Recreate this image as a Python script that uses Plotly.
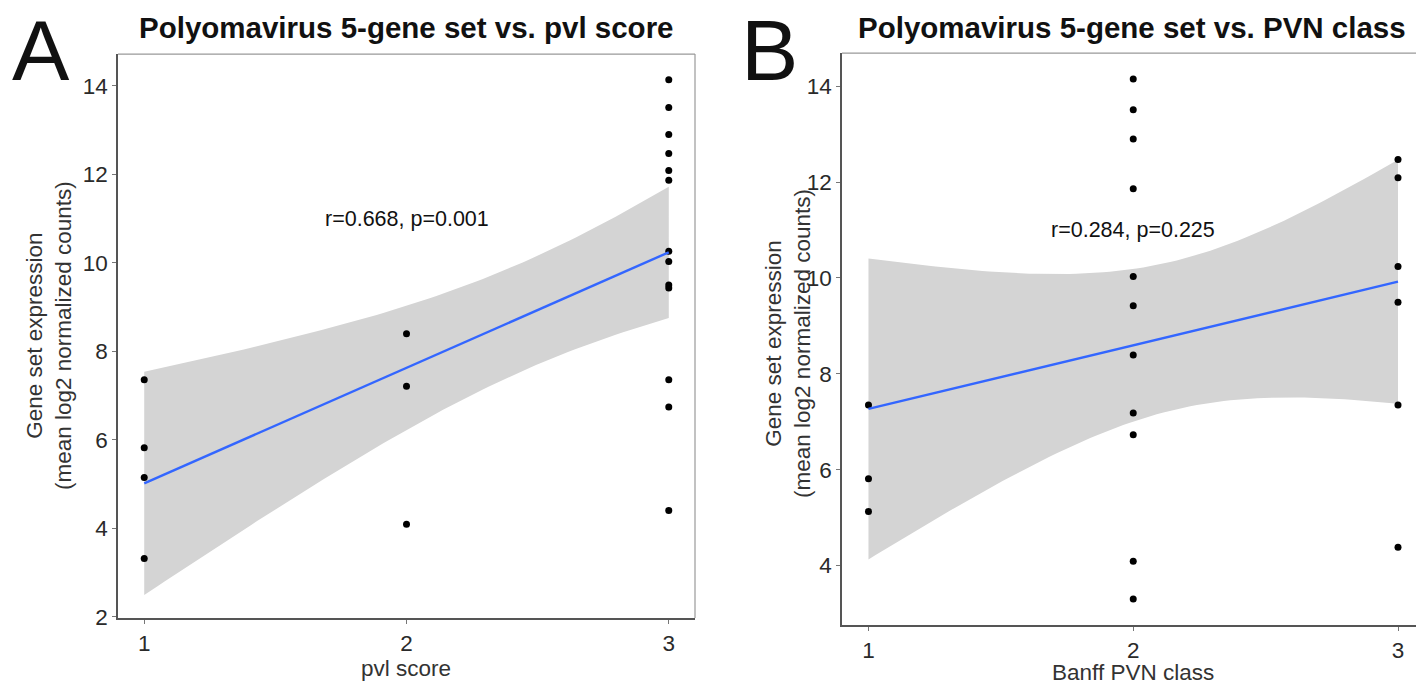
import numpy as np
import plotly.graph_objects as go

# ---- data ----
pvl_x = [1, 1, 1, 1, 2, 2, 2, 3, 3, 3, 3, 3, 3, 3, 3, 3, 3, 3, 3, 3]
pvl_y = [7.36, 5.82, 5.15, 3.32, 8.40, 7.21, 4.09,
         14.14, 13.51, 12.90, 12.47, 12.09, 11.87, 10.26, 10.03, 9.50, 9.43, 7.36, 6.74, 4.40]

pvn_x = [1, 1, 1, 2, 2, 2, 2, 2, 2, 2, 2, 2, 2, 2, 3, 3, 3, 3, 3, 3]
pvn_y = [7.35, 5.81, 5.13,
         14.15, 13.51, 12.90, 11.86, 10.03, 9.42, 8.39, 7.18, 6.73, 4.09, 3.30,
         12.47, 12.09, 10.24, 9.49, 7.35, 4.38]

x_ticks = [1, 2, 3]
yticks_a = [2, 4, 6, 8, 10, 12, 14]
yticks_b = [4, 6, 8, 10, 12, 14]
stat_a = "r=0.668, p=0.001"
stat_b = "r=0.284, p=0.225"
title_a = "Polyomavirus 5-gene set vs. pvl score"
title_b = "Polyomavirus 5-gene set vs. PVN class"
xlab_a = "pvl score"
xlab_b = "Banff PVN class"
ylab = "Gene set expression<br>(mean log2 normalized counts)"
T_CRIT = 2.100922  # t(0.975, df=18)

W, H = 1416, 694
FONT = "Liberation Sans, Arial, sans-serif"


def fit(xs, ys):
    x = np.asarray(xs, float)
    y = np.asarray(ys, float)
    n = len(x)
    xb, yb = x.mean(), y.mean()
    sxx = ((x - xb) ** 2).sum()
    b = ((x - xb) * (y - yb)).sum() / sxx
    a = yb - b * xb
    s = np.sqrt(((y - a - b * x) ** 2).sum() / (n - 2))
    g = np.linspace(x.min(), x.max(), 80)
    yh = a + b * g
    se = s * np.sqrt(1 / n + (g - xb) ** 2 / sxx)
    return g, yh, yh - T_CRIT * se, yh + T_CRIT * se


fig = go.Figure()


def add_panel(xs, ys, xa, ya):
    g, yh, lo, hi = fit(xs, ys)
    fig.add_trace(go.Scatter(x=np.concatenate([g, g[::-1]]), y=np.concatenate([hi, lo[::-1]]),
                             fill="toself", fillcolor="#D4D4D4", line=dict(width=0),
                             mode="lines", hoverinfo="skip", showlegend=False, xaxis=xa, yaxis=ya))
    fig.add_trace(go.Scatter(x=xs, y=ys, mode="markers",
                             marker=dict(color="black", size=7),
                             showlegend=False, xaxis=xa, yaxis=ya))
    fig.add_trace(go.Scatter(x=g, y=yh, mode="lines", line=dict(color="#3366FF", width=2.4),
                             showlegend=False, xaxis=xa, yaxis=ya))


add_panel(pvl_x, pvl_y, "x", "y")
add_panel(pvn_x, pvn_y, "x2", "y2")

axis_common = dict(showgrid=False, zeroline=False, showline=True, linecolor="#555555", linewidth=1.5,
                   ticks="outside", ticklen=4, tickcolor="#777777", tickwidth=1,
                   tickfont=dict(family=FONT, size=22.5, color="#2a2a2a"))

fig.update_layout(
    width=W, height=H, margin=dict(l=0, r=0, t=0, b=0),
    paper_bgcolor="white", plot_bgcolor="white",
    xaxis=dict(domain=[118 / W, 695 / W], range=[0.9, 3.1], tickvals=x_ticks, anchor="y", **axis_common),
    yaxis=dict(domain=[1 - 629 / H, 1 - 55 / H], range=[1.97, 14.72], tickvals=yticks_a, anchor="x", **axis_common),
    xaxis2=dict(domain=[842 / W, 1.0], range=[0.9, 3.068], tickvals=x_ticks, anchor="y2", **axis_common),
    yaxis2=dict(domain=[1 - 636 / H, 1 - 54 / H], range=[2.76, 14.69], tickvals=yticks_b, anchor="x2", **axis_common),
)

# light top/right borders
shapes = [
    dict(type="line", xref="x domain", yref="y domain", x0=0, x1=1, y0=1, y1=1, line=dict(color="#999999", width=1.2)),
    dict(type="line", xref="x domain", yref="y domain", x0=1, x1=1, y0=0, y1=1, line=dict(color="#999999", width=1.2)),
    dict(type="line", xref="x2 domain", yref="y2 domain", x0=0, x1=1, y0=1, y1=1, line=dict(color="#999999", width=1.2)),
]
fig.update_layout(shapes=shapes)

ann = []
def txt(x, y, text, size, bold=False, xref="paper", yref="paper", angle=0, color="#111111",
        yanchor="middle"):
    ann.append(dict(x=x, y=y, xref=xref, yref=yref, text=f"<b>{text}</b>" if bold else text,
                    showarrow=False, textangle=angle, xanchor="center", yanchor=yanchor,
                    font=dict(family=FONT, size=size, color=color)))

txt(406 / W, 1 - 28 / H, title_a, 29.5, bold=True)
txt(1132 / W, 1 - 28 / H, title_b, 29.5, bold=True)
txt(41 / W, 1.0, "A", 86, yanchor="top")
txt(770 / W, 1.0, "B", 86, yanchor="top")
txt(2, 11, stat_a, 21.5, xref="x", yref="y")
txt(2, 11, stat_b, 21.5, xref="x2", yref="y2")
txt(406 / W, 1 - 680 / H, xlab_a, 22.5, color="#333333")
txt(1133 / W, 1 - 684 / H, xlab_b, 22.5, color="#333333")
txt(49 / W, 1 - 342 / H, ylab, 22.5, angle=-90, color="#333333")
txt(788 / W, 1 - 350 / H, ylab, 22.5, angle=-90, color="#333333")
fig.update_layout(annotations=ann)

fig.write_html("out.html")
